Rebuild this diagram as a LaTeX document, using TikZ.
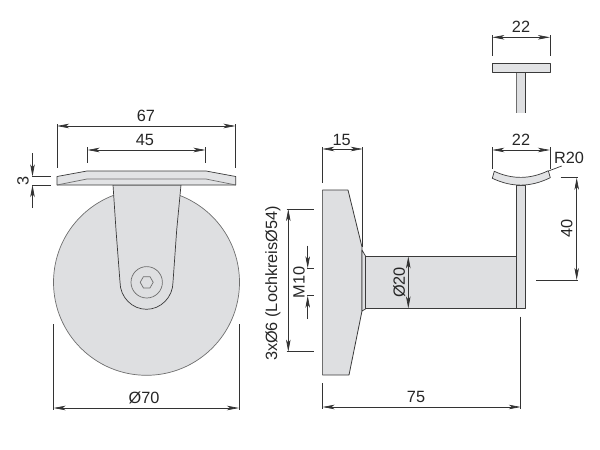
\documentclass[tikz,border=0pt]{standalone}
\usepackage{fontspec}
\setmainfont{Liberation Sans}
\usetikzlibrary{arrows.meta}
\definecolor{partfill}{HTML}{DEDFE1}
\definecolor{plateface}{HTML}{E2E3E5}
\definecolor{partline}{HTML}{3A3A3A}
\definecolor{softline}{HTML}{6E6E6E}
\tikzset{
  part/.style={draw=partline,fill=partfill,line width=0.7pt,line join=round},
  inner/.style={draw=softline,line width=0.7pt},
  ext/.style={draw=black!80,line width=0.7pt},
  dimen/.style={draw=black!80,line width=0.7pt,{Stealth[length=12pt,width=4.5pt,inset=3pt]}-{Stealth[length=12pt,width=4.5pt,inset=3pt]}},
  lead/.style={draw=black!80,line width=0.7pt,-{Stealth[length=12pt,width=4.5pt,inset=3pt]}},
  lbl/.style={font=\fontsize{16.3}{18}\selectfont,text=black!85,inner sep=0pt}
}
\begin{document}
\begin{tikzpicture}[x=1pt,y=-1pt]
\useasboundingbox (0,0) rectangle (600,450);
% wheel front view
\draw[part,draw=softline] (146.5,282.3) circle (93);
\draw[part] (113,185) -- (181,185) -- (176.7,230) -- (173,282)
  .. controls (173,297) and (161,309.3) .. (146.5,309.3)
  .. controls (132,309.3) and (120,297) .. (120,282) -- (116,230) -- cycle;
\draw[inner] (146.7,282.3) circle (15.7);
\draw[inner] (153.2,282.3) -- (150,287.9) -- (143.4,287.9) -- (140.2,282.3) -- (143.4,276.7) -- (150,276.7) -- cycle;
% plate
\draw[part,fill=plateface] (57,176.5) -- (87,171) -- (206,171) -- (235.7,176.5) -- (235.7,185) -- (57,185) -- cycle;
\draw[inner] (57,185) -- (87,179) -- (206,179) -- (235.7,185);
% side view: disk
\fill[partfill] (322.3,190) -- (348,190) -- (362,247) -- (362,311) -- (349,375) -- (322.3,375) -- cycle;
\draw[softline,line width=0.5pt] (322.3,190) -- (322.3,375);
\draw[partline,line width=0.8pt,line join=round] (322.3,190) -- (348,190) -- (362,247) -- (362,311) -- (349,375) -- (322.3,375);
\draw[part] (362,250) -- (365.5,256) -- (365.5,309) -- (362,311) -- cycle;
\draw[part] (365.5,256.3) rectangle (516.7,308.5);
\draw[part] (516.7,308.5) -- (516.7,185) -- (525.5,185) -- (525.5,308.5) -- cycle;
% saddle
\draw[part,fill=plateface] (494.3,171.3) .. controls (512,179.5) and (530,179.5) .. (548.3,170.7)
  -- (550.3,177.7) .. controls (530,187.5) and (512,187.5) .. (492.3,178.3) -- cycle;
% top T
\fill[partfill] (516.3,72) rectangle (525.7,113.3);
\draw[softline,line width=0.7pt] (516.3,72) -- (516.3,113.3);
\draw[partline,line width=0.8pt] (525.7,72) -- (525.7,113.3);
\draw[part,fill=plateface] (492.3,63.7) rectangle (550.3,72);
% dim 67
\draw[ext] (57,124) -- (57,168) (235.5,124) -- (235.5,168);
\draw[dimen] (57,126) -- (235.5,126);
\node[lbl] (d67) at (146,116) {67};
% dim 45
\draw[ext] (87.5,147) -- (87.5,163) (205.5,147) -- (205.5,163);
\draw[dimen] (87.5,150) -- (205.5,150);
\node[lbl] (d45) at (145,140) {45};
% dim 3
\draw[ext] (32,176.5) -- (50.7,176.5) (32,185) -- (50.7,185);
\draw[lead] (32.5,153) -- (32.5,176.5);
\draw[lead] (32.5,208) -- (32.5,185);
\node[lbl,rotate=90] (d3) at (23,180.5) {3};
% dim 70
\draw[ext] (53.5,324) -- (53.5,410) (239,324) -- (239,410);
\draw[dimen] (53.5,408) -- (239,408);
\node[lbl] (d70) at (144,398) {Ø70};
% dim 15
\draw[ext] (322.3,147) -- (322.3,182.7) (362.7,147) -- (362.7,246.7);
\draw[dimen] (322.3,149) -- (362.7,149);
\node[lbl] (d15) at (341.7,140) {15};
% dim 3x6
\draw[ext] (286.7,209) -- (314.3,209) (286.7,351.7) -- (314.3,351.7);
\draw[dimen] (288.3,209) -- (288.3,351.7);
\node[lbl,rotate=90] (dh) at (273,283.5) {3xØ6 (LochkreisØ54)};
% dim M10
\draw[ext] (307,268.3) -- (314,268.3) (307,295.7) -- (314,295.7);
\draw[lead] (307.7,245.7) -- (307.7,268.3);
\draw[lead] (307.7,319) -- (307.7,295.7);
\node[lbl,rotate=90] (dm) at (299,282.5) {M10};
% dim 20
\draw[dimen] (408.3,256.3) -- (408.3,308.5);
\node[lbl,rotate=90] (d20) at (399.3,282.5) {Ø20};
% dim 75
\draw[ext] (322.5,383) -- (322.5,409) (520.8,316.7) -- (520.8,409);
\draw[dimen] (322.5,407) -- (520.8,407);
\node[lbl] (d75) at (416,396.7) {75};
% top 22
\draw[ext] (492.3,35) -- (492.3,55.7) (550,35) -- (550,55.7);
\draw[dimen] (492.3,37.3) -- (550,37.3);
\node[lbl] (t22) at (521,27) {22};
% second 22
\draw[ext] (492.3,147) -- (492.3,169) (550,147) -- (550,169);
\draw[dimen] (492.3,150) -- (550,150);
\node[lbl] (s22) at (521,140) {22};
% R20
\node[lbl] (r20) at (569,158) {R20};
\draw[ext] (549.3,170.7) -- (561.7,166);
% dim 40
\draw[ext] (560.7,177.7) -- (578,177.7) (536,280) -- (578,280);
\draw[dimen] (576.7,177.7) -- (576.7,280);
\node[lbl,rotate=90] (d40) at (566.7,228) {40};
\end{tikzpicture}
\end{document}
